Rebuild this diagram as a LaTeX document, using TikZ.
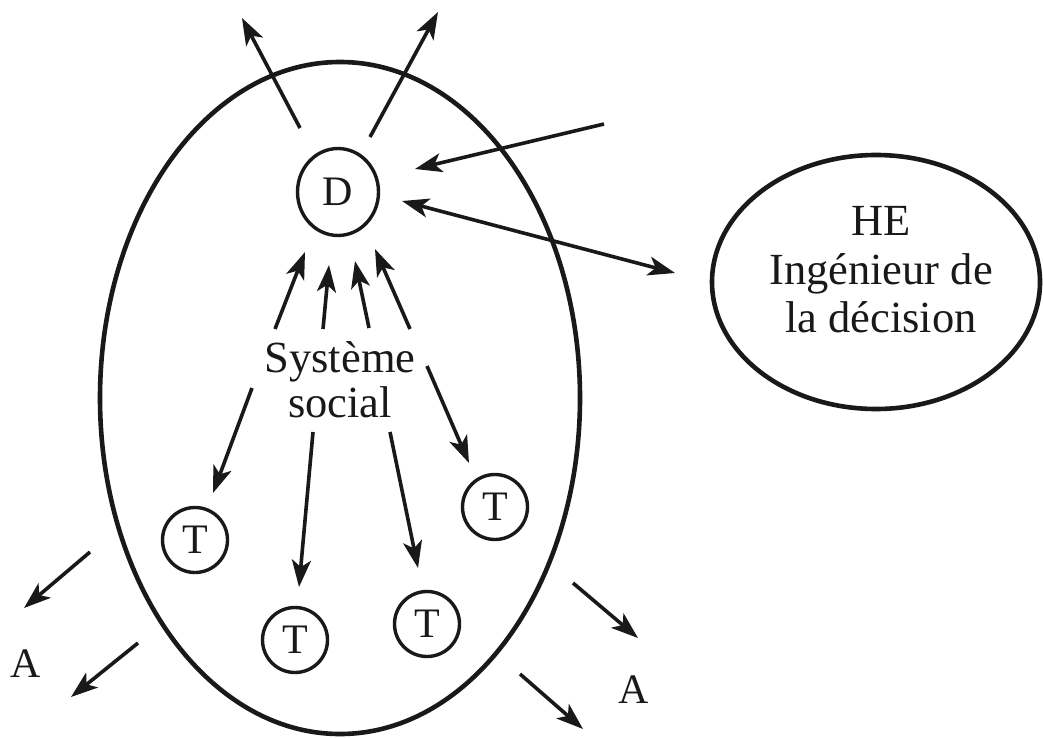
\documentclass[tikz,border=0pt]{standalone}
\usepackage{fontspec}
\setmainfont{Liberation Serif}
\usetikzlibrary{arrows.meta,shapes.geometric}
\colorlet{ink}{black!90}
\tikzset{
 pxs/.style={x=1pt,y=-1pt},
 arr/.style={draw=ink,line width=3.6pt,-{Stealth[length=27pt,width=19pt,inset=7pt]}},
 darr/.style={draw=ink,line width=3.6pt,{Stealth[length=27pt,width=19pt,inset=7pt]}-{Stealth[length=27pt,width=19pt,inset=7pt]}},
 circ/.style={draw=ink,line width=3.4pt,circle,inner sep=0pt},
 oval/.style={draw=ink,line width=4.6pt,ellipse,inner sep=0pt},
 txt/.style={font=\fontsize{42}{48}\selectfont,text=ink,align=center,inner sep=0pt},
 big/.style={font=\fontsize{44.5}{45}\selectfont,text=ink,align=center,inner sep=0pt},
 he/.style={font=\fontsize{44.5}{48.5}\selectfont,text=ink,align=center,inner sep=0pt},
}
\begin{document}
\begin{tikzpicture}[pxs]
\useasboundingbox (0,0) rectangle (1043,738);
\node[oval,minimum width=480pt,minimum height=672pt] (sys) at (340,398) {};
\node[oval,minimum width=328pt,minimum height=254pt] (he) at (876,282) {};
\node[he] (hetxt) at (881,270) {HE\\Ingénieur de\\la décision};
\node[circ,minimum width=81pt,minimum height=87pt,ellipse,txt,draw=ink] (d) at (338,192) {D};
\node[circ,minimum size=65pt,txt] (t1) at (195,540) {T};
\node[circ,minimum size=65pt,txt] (t2) at (295,640) {T};
\node[circ,minimum size=65pt,txt] (t3) at (427,624) {T};
\node[circ,minimum size=65pt,txt] (t4) at (495,507) {T};
\node[big] (soc) at (340,380) {Système\\social};
\node[txt] (a1) at (26,664) {A};
\node[txt] (a2) at (634,690) {A};
\coordinate (s1) at (300,128); \coordinate (e1) at (242,18);
\coordinate (s2) at (370,137); \coordinate (e2) at (438,12);
\coordinate (s3) at (604,124); \coordinate (e3) at (415,169);
\coordinate (s4) at (275,329); \coordinate (e4) at (305,252);
\coordinate (s5) at (323,329); \coordinate (e5) at (329,265);
\coordinate (s6) at (369,328); \coordinate (e6) at (355,261);
\coordinate (s7) at (410,329); \coordinate (e7) at (375,249);
\coordinate (s8) at (252,388); \coordinate (e8) at (213,493);
\coordinate (s9) at (313,432); \coordinate (e9) at (299,587);
\coordinate (s10) at (390,432); \coordinate (e10) at (418,568);
\coordinate (s11) at (427,366); \coordinate (e11) at (469,463);
\coordinate (s12) at (90,552); \coordinate (e12) at (24,608);
\coordinate (s13) at (138,643); \coordinate (e13) at (71,697);
\coordinate (s14) at (573,583); \coordinate (e14) at (638,638);
\coordinate (s15) at (520,674); \coordinate (e15) at (583,729);
\coordinate (s16) at (402,201); \coordinate (e16) at (675,273);
\draw[arr] (s1) -- (e1);
\draw[arr] (s2) -- (e2);
\draw[arr] (s3) -- (e3);
\draw[arr] (s4) -- (e4);
\draw[arr] (s5) -- (e5);
\draw[arr] (s6) -- (e6);
\draw[arr] (s7) -- (e7);
\draw[arr] (s8) -- (e8);
\draw[arr] (s9) -- (e9);
\draw[arr] (s10) -- (e10);
\draw[arr] (s11) -- (e11);
\draw[arr] (s12) -- (e12);
\draw[arr] (s13) -- (e13);
\draw[arr] (s14) -- (e14);
\draw[arr] (s15) -- (e15);
\draw[darr] (s16) -- (e16);
\end{tikzpicture}
\end{document}
